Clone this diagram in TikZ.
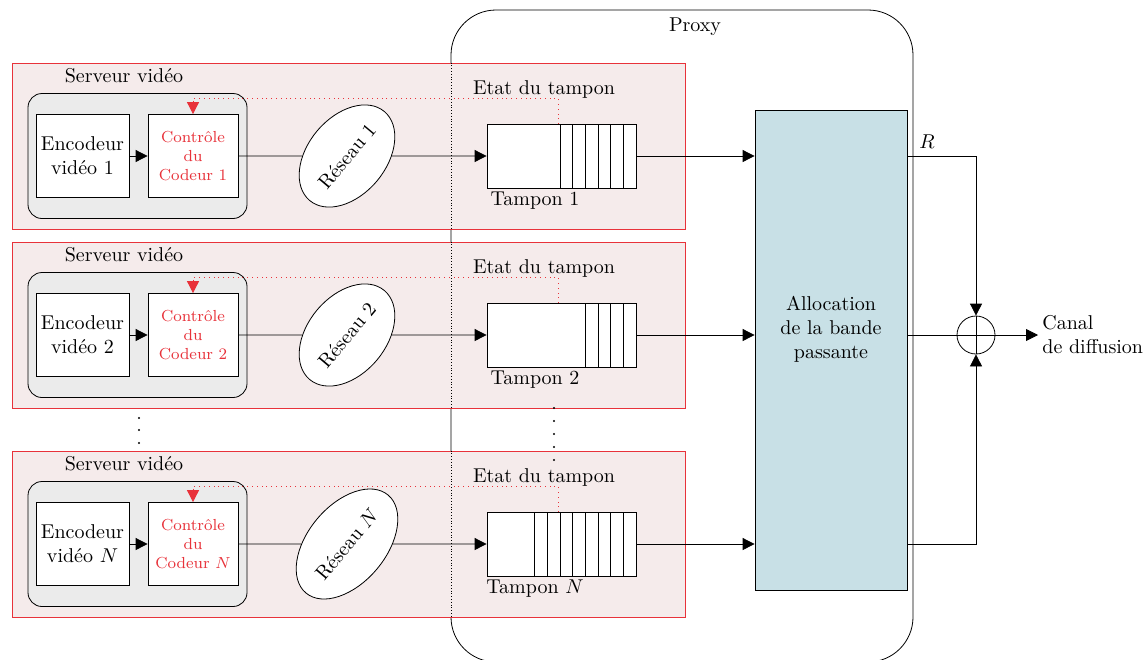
\documentclass[tikz,border=0pt]{standalone}
\usepackage{amsmath, amssymb}
\usepackage{tikz}
\usetikzlibrary{positioning,shapes,arrows.meta}
\definecolor{rouge}{HTML}{E8323A}
\definecolor{rose}{HTML}{F5EBEB}
\definecolor{gris}{HTML}{EBEBEB}
\definecolor{bleu}{HTML}{C8E0E6}

\begin{document}
\begin{tikzpicture}[x=0.5pt,y=-0.5pt,
        fleche/.style={-{Triangle[length=6pt,width=6pt]}},
        serveur/.style={draw=rouge,fill=rose,minimum width=336.5pt,minimum height=83pt},
        grisbox/.style={draw,fill=gris,rounded corners=7pt,minimum width=109.5pt,minimum height=62.5pt},
        bloc/.style={draw,fill=white,align=center,inner sep=1pt,minimum width=46.5pt,minimum height=41.5pt},
        ctrlbloc/.style={bloc,text=rouge,font=\footnotesize,minimum width=45pt},
        reseau/.style={draw,fill=white,ellipse,inner sep=1pt,minimum width=58pt,minimum height=39pt},
        tampon/.style={draw,fill=white,minimum width=74.5pt,minimum height=32pt}]
            \useasboundingbox (0,0) rectangle (1145,659);
            % proxy
            \node[draw,fill=white,rounded corners=22.5pt,minimum width=231pt,minimum height=326pt] (proxy) at (682,336) {};
            \node (proxylab) at (695,27) {Proxy};
            \coordinate (pxl) at (451,0);
            \node[draw,fill=bleu,minimum width=76pt,minimum height=240pt] (alloc) at (831,350) {};
            \node[align=center] (alloctxt) at (831,329) {Allocation\\de la bande\\passante};
            % serveurs video
            \foreach \i/\yc/\num/\cel in {1/156/1/6, 2/335/2/4, 3/544/{$N$}/8} {
                \node[serveur] (srv\i) at (348.5,\yc-10) {};
                \draw[densely dotted] (srv\i.north -| pxl) -- (srv\i.south -| pxl);
                \node[grisbox] (gr\i) at (137.5,\yc) {};
                \node (srvlab\i) at (124,\yc-80) {Serveur vidéo};
                \node[bloc] (enc\i) at (82.5,\yc) {Encodeur\\vidéo \num};
                \node[ctrlbloc] (ctrl\i) at (193,\yc) {Contrôle\\du\\Codeur \num};
                \node[reseau,rotate=50] (res\i) at (347,\yc) {Réseau \num};
                \node[tampon] (tamp\i) at (561.5,\yc) {};
                \foreach \k in {1,...,\cel}
                    \draw (636-\k*12.67,\yc-32) -- (636-\k*12.67,\yc+32);
                \node (etat\i) at (544,\yc-67) {Etat du tampon};
                \node (tamplab\i) at (535,\yc+45) {Tampon \num};
                \coordinate (et\i) at (558,\yc-32);
                \draw[rouge,dotted,-{Triangle[length=6pt,width=6pt]}] (et\i) -- (558,\yc-58) -| (ctrl\i.north);
                \draw[fleche] (enc\i) -- (ctrl\i);
                \draw (ctrl\i) -- (res\i);
                \draw[fleche] (res\i) -- (tamp\i);
                \draw[fleche] (tamp\i) -- (tamp\i -| alloc.west);
            }
            % points de suspension
            \foreach \y in {418,430,443} \fill (139,\y) circle (0.6pt);
            \foreach \y in {408,421,434,447,460} \fill (554,\y) circle (0.6pt);
            % sommateur
            \node[draw,circle,minimum size=19pt,inner sep=0pt] (somme) at (976,335) {};
            \draw (somme.north) -- (somme.south) (somme.west) -- (somme.east);
            \node[anchor=west,align=left,inner sep=2pt] (canal) at (1038,335) {Canal\\de diffusion};
            \node (rlab) at (927,142) {$R$};
            \draw[fleche] (alloc.east |- tamp1) -| (somme.north);
            \draw[fleche] (alloc.east |- tamp3) -| (somme.south);
            \draw (alloc.east |- somme) -- (somme.west);
            \draw[fleche] (somme.east) -- (canal.west);
        \end{tikzpicture}
\end{document}
